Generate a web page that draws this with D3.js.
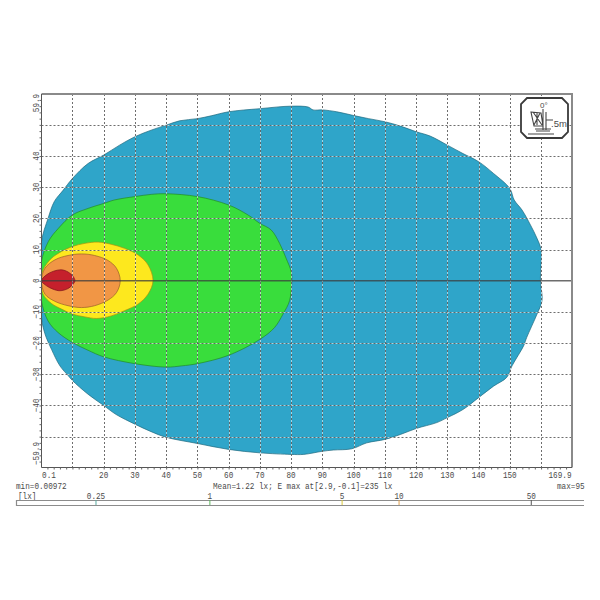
<!DOCTYPE html>
<html><head><meta charset="utf-8">
<script src="https://cdn.jsdelivr.net/npm/d3@7/dist/d3.min.js"></script>
<style>html,body{margin:0;padding:0;background:#fff}svg{display:block}
text{font-family:"Liberation Mono",monospace;font-size:9px;fill:#4a4a4a}</style></head>
<body><svg id="c" width="600" height="600"></svg>
<script>
// Isolux contours, [x metres, y metres]
const blueUpper=[[0.1,0],[0.1,12.6],[2.2,20],[4.2,25.4],[7,29],[10,32.8],[15,37.6],[20,40.3],[25.1,43.5],[30,46.2],[35.2,48.3],[40,49.9],[44.3,51.3],[50,52],[54.4,52.9],[60,54.2],[70,55.2],[80,56],[85.5,55.7],[87,54.8],[90,54.8],[94.6,54.2],[100,53],[104.8,52],[110,51],[115,49.6],[120,47.8],[124.5,46.4],[130,43.5],[135,40.8],[140,38.2],[144.8,34.4],[150,29.6],[151.4,25.9],[153.9,22.7],[156.6,17.9],[158.7,13.6],[160,9.9],[159.8,0]];
const blueLower=[[0.1,-11.8],[1.2,-17],[3.3,-22],[6,-27.3],[8.7,-30.5],[10,-32],[15,-36.4],[20,-40],[24,-42.9],[30,-46],[35.2,-48.4],[40,-50.2],[50,-52.2],[60,-54.1],[70,-55.2],[80,-55.7],[84,-55.7],[90,-54.7],[93.5,-54.3],[99.4,-53.9],[104.2,-52],[110,-50.9],[115,-49.3],[120,-47.4],[126.6,-45.5],[130,-43.9],[135,-41.3],[140,-37.5],[144.8,-33.8],[149,-31],[150.7,-27.3],[154.4,-20.9],[155.4,-18.2],[158.7,-10.7],[160.3,-6.4]];
const greenUpper=[[0.1,0],[0.1,6.2],[2.3,12.6],[5.5,16.8],[10,21.1],[15,23.2],[20,24.8],[23.4,25.9],[30,27],[35.2,27.7],[40,27.9],[50,27],[60,24.3],[66.2,21.1],[70,18.4],[73.6,16.3],[76.3,12],[78.4,7.2],[80,3],[80.2,0]];
const greenLower=[[0.1,-6.4],[2.2,-12.9],[5.4,-16.6],[10,-19.8],[15,-22.3],[20,-24.4],[30,-26.6],[40,-27.7],[45,-27.3],[50,-26.6],[60,-23.9],[70,-18.8],[74.7,-15],[77.4,-10.7],[79.5,-6.4]];
const yellowUpper=[[0.1,0],[0.6,3.5],[3.3,7.2],[6.5,9.4],[10,11],[14,12],[18.2,12.4],[22.4,11.7],[26.7,10.4],[31,8.3],[34.2,5.1],[35.8,0]];
const yellowLower=[[0.6,-4.3],[3.3,-7.3],[6.5,-9.1],[10,-10.7],[14,-11.6],[17.7,-12.1],[22.4,-11.3],[26.7,-9.6],[31,-7.5],[34.2,-4.3]];
const orangeUpper=[[0.1,0],[1.2,4],[4.4,6.7],[8.6,8.1],[12.9,8.6],[17.1,8.1],[21.4,6.5],[24.1,4],[25.3,0]];
const orangeLower=[[1.2,-4.3],[4.4,-6.6],[8.6,-8],[12.9,-8.6],[17.1,-8],[21.4,-6.2],[24.1,-3.8]];
const redUpper=[[0.1,0],[1.7,1.9],[3.8,3],[6.5,3.5],[8.6,2.8],[10.2,1.4],[10.8,0]];
const redLower=[[1.7,-1.6],[3.8,-2.7],[6,-3.2],[8.6,-2.5],[10.2,-1.1]];
const bandColors=["#2fa5c9","#39dd3c","#fde81e","#f19645","#c5202c"];
const xTicks=[0.1,10,20,30,40,50,60,70,80,90,100,110,120,130,140,150,160,169.9];
const xUnlabelled=[10,160];
const yTicks=[59.9,50,40,30,20,10,0,-10,-20,-30,-40,-50,-59.9];
const yUnlabelled=[50,-50];
const legendTicks=[0.25,1,5,10,50];
const legendTickColors=["#5aa9a0","#5db85d","#d9c83a","#e0a050","#555"];
const legendRange=[0.095,95];
const caption={min:"min=0.00972",mean:"Mean=1.22 lx; E max at[2.9,-0.1]=235 lx",max:"max=95",unit:"[lx]"};

const L=41.5,R=572,T=94,B=467.5;
const svg=d3.select("#c");
const x=d3.scaleLinear().domain([0.1,169.9]).range([L,R]);
const y=d3.scaleLinear().domain([-59.9,59.9]).range([B,T]);
const fmt=v=>String(v).replace("-","\u2212");
function squeeze(sel){sel.each(function(){const n=this.textContent.length;d3.select(this).attr("textLength",n*4.6).attr("lengthAdjust","spacingAndGlyphs")});return sel}

svg.append("clipPath").attr("id","plot").append("rect").attr("x",L).attr("y",T).attr("width",R-L).attr("height",B-T);

// filled bands
const line=d3.line().x(d=>x(d[0])).y(d=>y(d[1])).curve(d3.curveCatmullRomClosed.alpha(0.5));
const bands=[[blueUpper,blueLower],[greenUpper,greenLower],[yellowUpper,yellowLower],[orangeUpper,orangeLower],[redUpper,redLower]];
svg.append("g").attr("clip-path","url(#plot)").selectAll("path").data(bands).join("path")
  .attr("d",d=>line(d[0].concat(d[1].slice().reverse())))
  .attr("fill",(d,i)=>bandColors[i])
  .attr("stroke",(d,i)=>d3.color(bandColors[i]).darker(1.3))
  .attr("stroke-width",0.7);

// grid
const gx=xTicks.filter(v=>v>1&&v<169),gy=yTicks.filter(v=>Math.abs(v)<59&&v!==0);
const grid=svg.append("g");
[["#fff",null,0.55],["#555","2,2",0.85]].forEach(([c,dash,op])=>{
  grid.selectAll(null).data(gx).join("line")
    .attr("x1",d=>Math.round(x(d))+.5).attr("x2",d=>Math.round(x(d))+.5).attr("y1",T).attr("y2",B)
    .attr("stroke",c).attr("stroke-dasharray",dash).attr("opacity",op);
  grid.selectAll(null).data(gy).join("line")
    .attr("y1",d=>Math.round(y(d))+.5).attr("y2",d=>Math.round(y(d))+.5).attr("x1",L).attr("x2",R)
    .attr("stroke",c).attr("stroke-dasharray",dash).attr("opacity",op);
});
// axis centre line
svg.append("line").attr("x1",L).attr("x2",R).attr("y1",y(0)).attr("y2",y(0))
  .attr("stroke","#3c3c3c").attr("stroke-opacity",.75).attr("stroke-width",1.6);

// frame
svg.append("path").attr("d",`M${L},${T}H${R}V${B}`).attr("fill","none").attr("stroke","#8a8a8a").attr("stroke-width",2);
svg.append("path").attr("d",`M${L},${T}V${B}H${R}`).attr("fill","none").attr("stroke","#555").attr("stroke-width",1);

// axes: minor ticks
const minorX=d3.range(2,170,2),minorY=d3.range(-58,60,2);
const ax=svg.append("g").attr("transform",`translate(0,${B})`).call(d3.axisBottom(x).tickValues(minorX).tickSize(2).tickFormat(""));
const ay=svg.append("g").attr("transform",`translate(${L},0)`).call(d3.axisLeft(y).tickValues(minorY).tickSize(2).tickFormat(""));
[ax,ay].forEach(a=>{a.select(".domain").remove();a.selectAll("line").attr("stroke","#666")});

// tick labels
squeeze(svg.append("g").selectAll("text").data(xTicks.filter(v=>!xUnlabelled.includes(v))).join("text")
  .attr("text-anchor","middle").attr("x",d=>x(d)+(d===0.1?7.5:d===169.9?-12:0)).attr("y",478).text(fmt));
squeeze(svg.append("g").selectAll("text").data(yTicks.filter(v=>!yUnlabelled.includes(v))).join("text")
  .attr("text-anchor","middle")
  .attr("transform",d=>`translate(39,${y(d)+(d===59.9?9:d===-59.9?-14:0)}) rotate(-90)`)
  .text(fmt));

// captions
squeeze(svg.append("text").attr("x",16).attr("y",488.5).text(caption.min));
squeeze(svg.append("text").attr("x",213).attr("y",488.5).text(caption.mean));
squeeze(svg.append("text").attr("x",557).attr("y",488.5).text(caption.max));
squeeze(svg.append("text").attr("x",18).attr("y",499).text(caption.unit));

// legend scale
const lg=d3.scaleLog().domain(legendRange).range([16.5,584]);
svg.append("path").attr("d",`M${lg(95)},500.5H${lg(0.095)}V505.5H${lg(95)}`).attr("fill","#fff").attr("stroke","#8c8c8c").attr("stroke-width",1.2);
svg.append("g").selectAll("line").data(legendTicks).join("line")
  .attr("x1",d=>lg(d)).attr("x2",d=>lg(d)).attr("y1",500).attr("y2",505)
  .attr("stroke",(d,i)=>legendTickColors[i]);
squeeze(svg.append("g").selectAll("text").data(legendTicks).join("text")
  .attr("x",d=>lg(d)).attr("y",499).attr("text-anchor","middle").text(d=>d));

// luminaire pictogram
const icon=svg.append("g").attr("transform","translate(521,98)");
icon.append("path").attr("d","M6,0H41L47,6V34L41,40H6L0,34V6Z").attr("fill","#fff").attr("stroke","#3a3a3a").attr("stroke-width",1.8);
icon.append("path").attr("d","M10,14L20,15L22,28L13,28ZM12,14L21,27M19,15L13,27M16,15V27M22,11V32M25,14V32M25,22H32M14,31H30M15,33H29M7,36H33")
  .attr("fill","none").attr("stroke","#444").attr("stroke-width",1.1);
icon.append("text").attr("x",19).attr("y",10).style("font-family","Liberation Sans").style("font-size","8px").text("0°");
icon.append("text").attr("x",30).attr("y",29).style("font-family","Liberation Sans").style("font-size","9.5px").text(".5m");
</script></body></html>
